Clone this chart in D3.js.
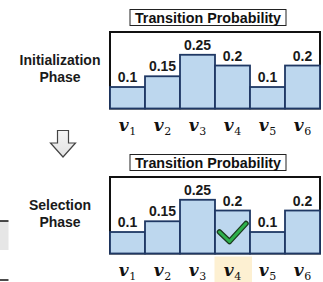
<!DOCTYPE html>
<html><head><meta charset="utf-8">
<script src="https://cdn.jsdelivr.net/npm/d3@7"></script>
<style>html,body{margin:0;padding:0;background:#fff;overflow:hidden}</style>
</head><body>
<script>
const nodes = ["1","2","3","4","5","6"];
const probs = [0.1, 0.15, 0.25, 0.2, 0.1, 0.2];
const probLabels = ["0.1","0.15","0.25","0.2","0.1","0.2"];
const phaseNames = [["Initialization","Phase"],["Selection","Phase"]];
const selectedNode = [null, "4"];
const titleText = "Transition Probability";

const W = 323, H = 282;
const svg = d3.select("body").append("svg").attr("width", W).attr("height", H);
const x = d3.scaleBand().domain(nodes).range([110, 320]).padding(0);
const y = d3.scaleLinear().domain([0, 0.356]).range([108.5, 32]);
const panelOffset = [0, 145];

// left cropped fragments
svg.append("rect").attr("x", 0).attr("y", 221).attr("width", 8.5).attr("height", 29).attr("fill", "#e6e6e6");
svg.append("line").attr("x1", 0).attr("x2", 8.5).attr("y1", 221).attr("y2", 221).attr("stroke", "#111").attr("stroke-width", 1.5);
svg.append("line").attr("x1", 0).attr("x2", 8.5).attr("y1", 280).attr("y2", 280).attr("stroke", "#111").attr("stroke-width", 1.5);

// down arrow
const grad = svg.append("defs").append("linearGradient").attr("id", "ag").attr("x1", 0).attr("x2", 0).attr("y1", 0).attr("y2", 1);
grad.append("stop").attr("offset", "0%").attr("stop-color", "#f4f4f4");
grad.append("stop").attr("offset", "100%").attr("stop-color", "#e2e2e2");
const ax = 63;
svg.append("path")
  .attr("d", `M${ax-5.5},130.5 L${ax+5.5},130.5 L${ax+5.5},143 L${ax+12.5},143 L${ax},157 L${ax-12.5},143 L${ax-5.5},143 Z`)
  .attr("fill", "url(#ag)").attr("stroke", "#444").attr("stroke-width", 1.2).attr("stroke-linejoin", "miter");

phaseNames.forEach((pn, pi) => {
  const g = svg.append("g").attr("transform", `translate(0,${panelOffset[pi]})`);
  // phase label
  const lt = g.append("text").attr("x", 60).attr("y", 65)
    .attr("text-anchor", "middle").attr("font-family", "Liberation Sans, Arial, sans-serif")
    .attr("font-weight", "bold").attr("font-size", 14).attr("fill", "#1a1a1a");
  pn.forEach((t, i) => lt.append("tspan").attr("x", 60).attr("dy", i === 0 ? 0 : 17).text(t));

  // title box
  g.append("rect").attr("x", 130).attr("y", 9.5).attr("width", 156).attr("height", 16)
    .attr("fill", "#fff").attr("stroke", "#222").attr("stroke-width", 1);
  g.append("text").attr("x", 208).attr("y", 22.5).attr("text-anchor", "middle")
    .attr("font-family", "Liberation Sans, Arial, sans-serif").attr("font-weight", "bold")
    .attr("font-size", 14.3).attr("fill", "#111").text(titleText);

  // frame
  g.append("rect").attr("x", x.range()[0]).attr("y", y.range()[1]).attr("width", x.range()[1] - x.range()[0])
    .attr("height", y.range()[0] - y.range()[1]).attr("fill", "#fff").attr("stroke", "#111").attr("stroke-width", 2);

  // highlight under selected node
  if (selectedNode[pi]) {
    g.append("rect").attr("x", x(selectedNode[pi]) - 0.5).attr("y", y(0) + 3).attr("width", x.bandwidth() + 2.5)
      .attr("height", 30).attr("fill", "#fdf0d2");
  }

  // bars
  g.selectAll("rect.bar").data(nodes).enter().append("rect").attr("class", "bar")
    .attr("x", d => x(d)).attr("width", x.bandwidth())
    .attr("y", (d, i) => y(probs[i])).attr("height", (d, i) => y(0) - y(probs[i]))
    .attr("fill", "#bdd7ee").attr("stroke", "#1f3864").attr("stroke-width", 1.8);

  // value labels
  g.selectAll("text.val").data(nodes).enter().append("text").attr("class", "val")
    .attr("x", d => x(d) + x.bandwidth() / 2).attr("y", (d, i) => y(probs[i]) - 5)
    .attr("text-anchor", "middle").attr("font-family", "Liberation Sans, Arial, sans-serif")
    .attr("font-weight", "bold").attr("font-size", 14).attr("fill", "#1a1a1a")
    .text((d, i) => probLabels[i]);

  // node labels
  const nl = g.selectAll("text.node").data(nodes).enter().append("text").attr("class", "node")
    .attr("x", d => x(d) + x.bandwidth() / 2).attr("y", 131)
    .attr("text-anchor", "middle").attr("font-family", "DejaVu Serif, serif").attr("fill", "#111");
  nl.append("tspan").attr("font-style", "italic").attr("font-weight", "bold").attr("font-size", 17).text("v");
  nl.append("tspan").attr("font-size", 11).attr("dx", 0.5).attr("dy", 4).text(d => d);

  // checkmark
  if (selectedNode[pi]) {
    const bx = x(selectedNode[pi]), by = y(0);
    const ck = `M${bx+4.5},${by-21.5} L${bx+14.5},${by-12} L${bx+31},${by-30}`;
    g.append("path").attr("d", ck).attr("fill", "none").attr("stroke", "#1b3a1e").attr("stroke-width", 5.5)
      .attr("stroke-linecap", "round").attr("stroke-linejoin", "round");
    g.append("path").attr("d", ck).attr("fill", "none").attr("stroke", "#2eb04b").attr("stroke-width", 3)
      .attr("stroke-linecap", "round").attr("stroke-linejoin", "round");
  }
});
</script>
</body></html>
